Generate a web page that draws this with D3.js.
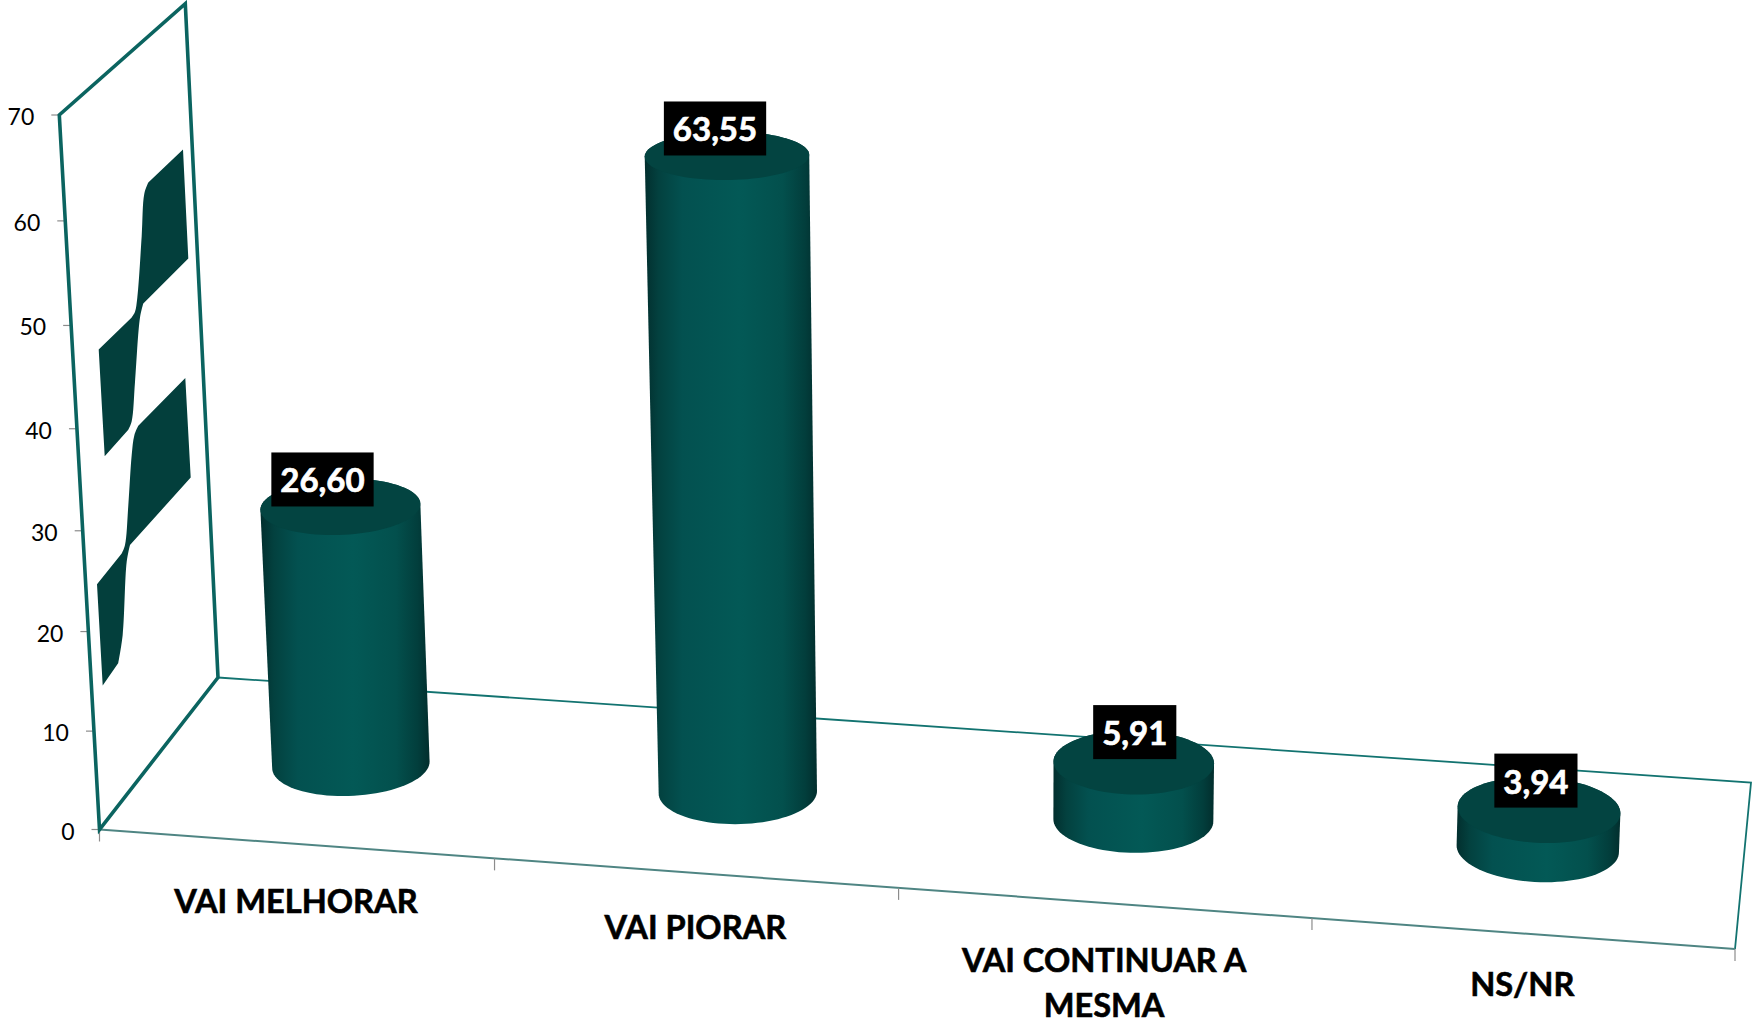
<!DOCTYPE html>
<html><head><meta charset="utf-8">
<style>html,body{margin:0;padding:0;background:#fff}svg{display:block}</style>
<script src="https://cdn.jsdelivr.net/npm/d3@7"></script>
</head><body><svg id="chart" width="1753" height="1025"></svg>
<script>
// ---- data ----
const categories = ["VAI MELHORAR", "VAI PIORAR", "VAI CONTINUAR A MESMA", "NS/NR"];
const categoryLines = [["VAI MELHORAR"], ["VAI PIORAR"], ["VAI CONTINUAR A", "MESMA"], ["NS/NR"]];
const values = [26.60, 63.55, 5.91, 3.94];
const yTicks = [0, 10, 20, 30, 40, 50, 60, 70];
// ---- decoration painted on the side wall (reference artefact), page px ----
const wallShapeA = [[98.7,349.4],[131.7,317.4],[135,311.8],[137.3,297.8],[141.7,236],[144.3,193.8],[148.3,182.6],[183,149.4],[188.3,258.4],[143.3,303.4],[140,317.4],[135,382],[131.7,421.3],[128.3,429.8],[104.7,456.2]];
const wallShapeB = [[97,584.3],[121.7,553.4],[125,545],[128.3,505.6],[131.7,455],[134.3,435.4],[138.3,425.8],[185.3,378],[190.7,477.5],[130,545],[126.7,561.8],[122.7,634.8],[118.3,663],[102.7,685.4]];

// ---- projection: floor corners + top of the wall define a 3D -> page camera ----
const A = [99.5, 829.5], B = [1735, 949], C = [1751, 782.5], D = [218, 677.5], TL = [59.3, 115];
const persp = -0.042;
const sx = A[0]-B[0]+C[0]-D[0], sy = A[1]-B[1]+C[1]-D[1];
const dx1 = B[0]-C[0], dy1 = B[1]-C[1], dx2 = D[0]-C[0], dy2 = D[1]-C[1];
const den = dx1*dy2-dx2*dy1;
const g = (sx*dy2-dx2*sy)/den, h = (dx1*sy-sx*dy1)/den;
const ax = B[0]-A[0]+g*B[0], bx = D[0]-A[0]+h*D[0];
const ay = B[1]-A[1]+g*B[1], by = D[1]-A[1]+h*D[1];
const hx = TL[0]*(1+persp)-A[0], hy = TL[1]*(1+persp)-A[1];
function project(u, v, t) {
  const w = g*u + h*v + 1 + persp*t;
  return [(ax*u + bx*v + A[0] + hx*t)/w, (ay*u + by*v + A[1] + hy*t)/w];
}

// ---- scales ----
const xBand = d3.scaleBand().domain(categories).range([0, 1]);
const yScale = d3.scaleLinear().domain([0, 70]).range([0, 1]);
const fmt = d3.formatLocale({decimal: ",", thousands: ".", grouping: [3], currency: ["", ""]}).format(".2f");

const svg = d3.select("#chart");
const FONT = "Lato, 'Open Sans', sans-serif";
const TEAL = "#0b6460";
const defs = svg.append("defs");

const poly = pts => d3.line()(pts) + "Z";
const smooth = d3.line().curve(d3.curveCatmullRom.alpha(0.5));
const cont = pts => smooth(pts).replace(/^M/, "L");

// floor
svg.append("path").attr("d", d3.line()([D, C, B])).attr("fill", "none").attr("stroke", "#127370").attr("stroke-width", 1.8);
svg.append("path").attr("d", d3.line()([A, B])).attr("fill", "none").attr("stroke", "#4f8583").attr("stroke-width", 2);

// x ticks
svg.append("g").selectAll("line").data(d3.range(categories.length + 1)).join("line")
  .attr("x1", i => project(i/categories.length, 0, 0)[0])
  .attr("x2", i => project(i/categories.length, 0, 0)[0])
  .attr("y1", i => project(i/categories.length, 0, 0)[1])
  .attr("y2", i => project(i/categories.length, 0, 0)[1] + 12)
  .attr("stroke", "#8c8c8c").attr("stroke-width", 1.2);

// y ticks and labels
const yAxis = svg.append("g");
yAxis.selectAll("line").data(yTicks).join("line")
  .attr("x1", d => project(0, 0, yScale(d))[0] - 8)
  .attr("x2", d => project(0, 0, yScale(d))[0])
  .attr("y1", d => project(0, 0, yScale(d))[1])
  .attr("y2", d => project(0, 0, yScale(d))[1])
  .attr("stroke", "#8c8c8c").attr("stroke-width", 1.2);
yAxis.selectAll("text").data(yTicks).join("text")
  .attr("x", d => project(0, 0, yScale(d))[0] - 25)
  .attr("y", d => project(0, 0, yScale(d))[1] + 10)
  .attr("text-anchor", "end").attr("font-family", FONT).attr("font-size", 23).attr("fill", "#000")
  .text(d => d);

// wall with painted shapes
const shapePath = (s, tailEnd) =>
  "M" + s[0].join(",") + cont(s.slice(1, 7)) + "L" + s[7].join(",") + "L" + s[8].join(",") +
  cont(s.slice(9, tailEnd)) + d3.line()(s.slice(tailEnd)).replace(/^M/, "L") + "Z";
svg.append("path").attr("d", shapePath(wallShapeA, 14)).attr("fill", "#033f3c");
svg.append("path").attr("d", shapePath(wallShapeB, 13)).attr("fill", "#033f3c");
svg.append("path").attr("d", poly([A, TL, project(0, 1, 1), D]))
  .attr("fill", "none").attr("stroke", TEAL).attr("stroke-width", 3.6).attr("stroke-linejoin", "miter");

// cylinders
const ru = 0.0495, rv = 0.2, vc = 0.5;
const ring = (u, t) => d3.range(0, 360, 4).map(a => project(
  u + ru*Math.cos(a*Math.PI/180), vc + rv*Math.sin(a*Math.PI/180), t));
const labelNudge = [[-18, -27], [-12, -27], [1, -30], [-3, -29]];

categories.forEach((c, i) => {
  const u = xBand(c) + xBand.bandwidth()/2;
  const t = yScale(values[i]);
  const bottom = ring(u, 0), top = ring(u, t);
  const hull = d3.polygonHull(bottom.concat(top));
  const [x0, x1] = d3.extent(hull, p => p[0]);
  const id = "body" + i;
  const gr = defs.append("linearGradient").attr("id", id).attr("gradientUnits", "userSpaceOnUse")
    .attr("x1", x0).attr("x2", x1).attr("y1", 0).attr("y2", 0);
  [[0, "#022f2e"], [0.08, "#03413f"], [0.22, "#035150"], [0.55, "#035956"], [0.8, "#03504d"], [0.93, "#023e3c"], [1, "#022e2d"]]
    .forEach(s => gr.append("stop").attr("offset", s[0]).attr("stop-color", s[1]));
  svg.append("path").attr("d", poly(hull)).attr("fill", `url(#${id})`);
  svg.append("path").attr("d", poly(top)).attr("fill", "#034441");
});

// value labels
categories.forEach((c, i) => {
  const u = xBand(c) + xBand.bandwidth()/2;
  const p = project(u, vc, yScale(values[i]));
  const cx = p[0] + labelNudge[i][0], cy = p[1] + labelNudge[i][1];
  const g2 = svg.append("g");
  const txt = g2.append("text").attr("x", cx).attr("y", cy + 13)
    .attr("text-anchor", "middle").attr("font-family", FONT).attr("font-weight", 700)
    .attr("font-size", 33).attr("fill", "#fff").attr("stroke", "#fff").attr("stroke-width", 0.7)
    .text(fmt(values[i]));
  const w = txt.node().getComputedTextLength() + 18;
  g2.insert("rect", "text").attr("x", cx - w/2).attr("y", cy - 27).attr("width", w).attr("height", 54).attr("fill", "#000");
});

// category labels
const labelDrop = [69, 66, 69, 63];
categoryLines.forEach((lines, i) => {
  const u = xBand(categories[i]) + xBand.bandwidth()/2;
  const p = project(u, 0, 0);
  lines.forEach((s, j) => {
    svg.append("text").attr("x", p[0]).attr("y", p[1] + labelDrop[i] + j*45)
      .attr("text-anchor", "middle").attr("font-family", FONT).attr("font-weight", 700)
      .attr("font-size", 32.6).attr("fill", "#000").attr("stroke", "#000").attr("stroke-width", 0.6).text(s);
  });
});
</script></body></html>
